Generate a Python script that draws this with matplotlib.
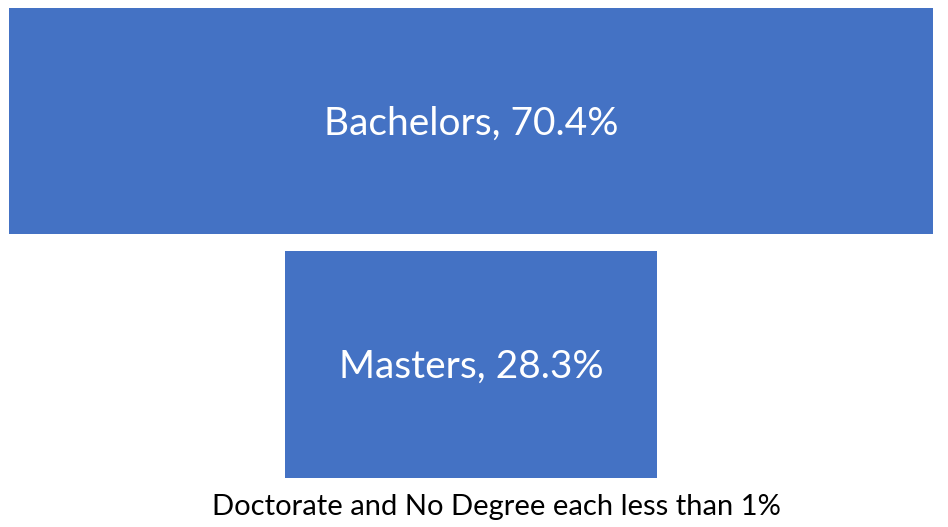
import matplotlib.pyplot as plt

# degree share data
degrees = ["Bachelors", "Masters"]
shares = [70.4, 28.3]
note = "Doctorate and No Degree each less than 1%"

bar_color = "#4472C4"
plt.rcParams['font.family'] = ['Lato', 'DejaVu Sans']

fig = plt.figure(figsize=(9.48, 5.27), dpi=100)
ax = fig.add_axes([0, 0.093, 1, 0.892])

# centred bars, funnel style
lefts = [-s / 2 for s in shares]
ax.barh(range(len(degrees)), shares, left=lefts, height=0.93, color=bar_color)

for i, (d, s) in enumerate(zip(degrees, shares)):
    ax.text(0, i + 0.01, f"{d}, {s}%", ha="center", va="center", color="white", fontsize=28)

ax.set_xlim(-35.89, 36.34)
ax.set_ylim(1.465, -0.465)
ax.axis("off")

fig.text(0.524, 0.038, note, ha="center", va="center", fontsize=21, color="black")

plt.savefig("out.png", dpi=100)
